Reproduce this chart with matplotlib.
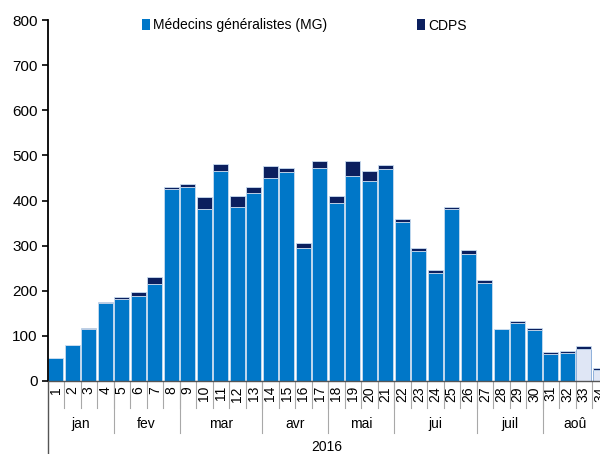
import matplotlib
matplotlib.use('Agg')
import matplotlib.pyplot as plt
import matplotlib.transforms as mtransforms
from matplotlib.patches import Patch
import numpy as np

plt.rcParams['font.family'] = ['Liberation Sans', 'DejaVu Sans']

weeks = [str(i) for i in range(1, 35)]
mg = [50, 79, 116, 173, 182, 188, 216, 426, 430, 382, 466, 386, 416, 450, 463, 295,
      472, 394, 455, 444, 470, 353, 287, 239, 382, 281, 217, 116, 128, 113, 59, 63, 72, 24]
cdps = [0, 1, 2, 3, 5, 10, 14, 4, 7, 26, 14, 25, 14, 27, 10, 11,
        15, 16, 32, 21, 9, 6, 8, 8, 3, 10, 6, 0, 5, 4, 5, 4, 5, 4]
months = ['jan', 'fev', 'mar', 'avr', 'mai', 'jui', 'juil', 'aoû']
month_sizes = [4, 4, 5, 4, 4, 5, 4, 4]
provisional = [32, 33]  # index of pale bars (weeks 33, 34)

c_mg = '#0077c8'
c_cdps = '#0b1f5e'
c_pale = '#dfe6f5'

fig = plt.figure(figsize=(6, 4.54), dpi=100)
W, H = 600, 454
ax = fig.add_axes([47.5 / W, (454 - 381) / H, 561 / W, 361 / H])

x = np.arange(len(weeks))
fc = [c_pale if i in provisional else c_mg for i in x]
ec = ['#7fa6d6' if i in provisional else '#c9dcf0' for i in x]
ax.bar(x, mg, width=0.92, color=fc, edgecolor=ec, linewidth=0.6)
ax.bar(x, cdps, bottom=mg, width=0.92, color=c_cdps, edgecolor='#c9dcf0', linewidth=0.6)

ax.set_xlim(-0.5, len(weeks) - 0.5)
ax.set_ylim(0, 800)
ax.set_yticks(range(0, 801, 100))
ax.tick_params(axis='y', labelsize=11, length=4, width=1.2, direction='out', pad=3)
ax.set_xticks([])
for s in ['top', 'right']:
    ax.spines[s].set_visible(False)
ax.spines['left'].set_linewidth(1.3)
ax.spines['bottom'].set_linewidth(1.0)
ax.spines['bottom'].set_color('#555555')

trans = mtransforms.blended_transform_factory(ax.transData, ax.transAxes)
px = 1 / 361.0
grey = '#a8a8a8'
# week numbers
for i, w in enumerate(weeks):
    ax.text(i, -5 * px, w, rotation=90, ha='center', va='top', fontsize=10,
            transform=trans, clip_on=False)
    ax.plot([i + 0.5, i + 0.5], [0, -27 * px], color=grey, lw=0.8,
            transform=trans, clip_on=False)
# months
start = 0
for m, n in zip(months, month_sizes):
    ax.text(start + n / 2 - 0.5, -43 * px, m, ha='center', va='center', fontsize=10,
            transform=trans, clip_on=False)
    end = start + n
    ax.plot([end - 0.5, end - 0.5], [0, -52 * px], color=grey, lw=0.8,
            transform=trans, clip_on=False)
    start = end
ax.plot([-0.5, -0.5], [0, -80 * px], color='#555555', lw=1.0,
        transform=trans, clip_on=False)
ax.text(16.4, -66 * px, '2016', ha='center', va='center', fontsize=10,
        transform=trans, clip_on=False)

handles = [Patch(facecolor=c_mg), Patch(facecolor=c_cdps)]
fig.legend(handles, ['Médecins généralistes (MG)', 'CDPS'], loc='upper left',
           bbox_to_anchor=(129 / W, 1 - 6 / H), ncol=2, frameon=False, fontsize=10,
           handlelength=0.6, handleheight=0.9, handletextpad=0.2, columnspacing=6.5)

fig.savefig('out.png', dpi=100)
